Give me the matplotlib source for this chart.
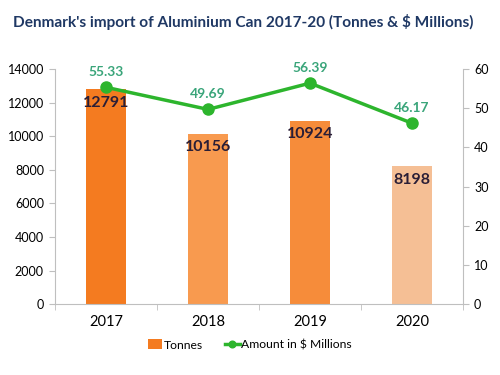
import matplotlib.pyplot as plt
import numpy as np

plt.rcParams['font.family'] = ['Lato', 'DejaVu Sans']

years = ['2017', '2018', '2019', '2020']
tonnes = [12791, 10156, 10924, 8198]
amount = [55.33, 49.69, 56.39, 46.17]
bar_colors = ['#F47B20', '#F89A4F', '#F68C3A', '#F5BF95']

fig = plt.figure(figsize=(5, 3.75), dpi=100)
ax = fig.add_axes([0.11, 0.189, 0.816, 0.627])
x = np.arange(len(years))

bars = ax.bar(x, tonnes, width=0.4, color=bar_colors, label='Tonnes')
ax.set_ylim(0, 14000)
ax.set_xlim(-0.5, 3.5)
ax.set_yticks(range(0, 14001, 2000))
ax.set_xticks(x)
ax.set_xticklabels(years, fontsize=10.5)
ax.set_xticks(np.arange(-0.5, 4, 1), minor=True)
ax.tick_params(axis='x', which='major', length=0, pad=8)
ax.tick_params(axis='x', which='minor', length=4, color='#BFBFBF')
ax.tick_params(axis='y', labelsize=9, length=4, color='#BFBFBF', pad=4)
for s in ['left', 'bottom']:
    ax.spines[s].set_color('#BFBFBF')
ax.spines['top'].set_visible(False)
ax.spines['right'].set_visible(False)

for xi, v in zip(x, tonnes):
    ax.text(xi, v - 400, str(v), ha='center', va='top', fontsize=11.5,
            fontweight='bold', color='#2A1E36')

ax2 = ax.twinx()
line, = ax2.plot(x, amount, color='#2DB52D', lw=2.5, marker='o', ms=8,
                 label='Amount in $ Millions')
ax2.set_ylim(0, 60)
ax2.set_yticks(range(0, 61, 10))
ax2.tick_params(axis='y', labelsize=9, length=4, color='#BFBFBF', pad=4)
ax2.spines['right'].set_color('#BFBFBF')
for s in ['top', 'left', 'bottom']:
    ax2.spines[s].set_visible(False)
for xi, v in zip(x, amount):
    ax2.text(xi, v + 2.4, f'{v:.2f}', ha='center', va='bottom', fontsize=10,
             fontweight='bold', color='#3AA57A')

fig.legend([bars, line], ['Tonnes', 'Amount in $ Millions'], loc='center',
           bbox_to_anchor=(0.5, 0.08), ncol=2, frameon=False, fontsize=8.7,
           handlelength=1.2, handleheight=0.9, handletextpad=0.15,
           columnspacing=1.8, markerscale=0.6)

fig.text(0.026, 0.94, "Denmark's import of Aluminium Can 2017-20 (Tonnes & $ Millions)",
         fontsize=11.1, fontweight='bold', color='#1F3864', ha='left', va='center')

fig.savefig('out.png', dpi=100)
